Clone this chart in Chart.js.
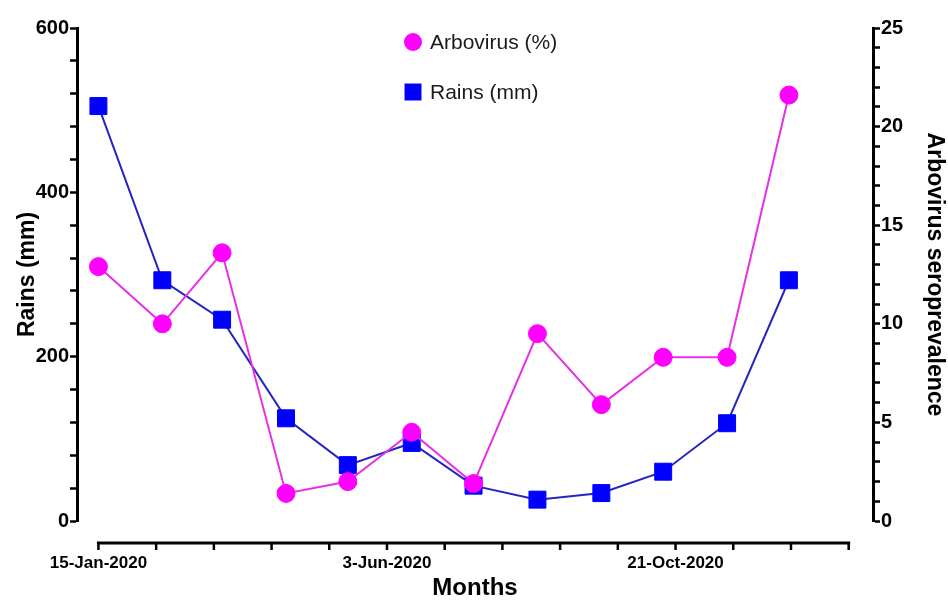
<!DOCTYPE html>
<html>
<head>
  <meta charset="UTF-8" />
  <title>Rains and arbovirus seroprevalence</title>
  <script src="https://cdn.jsdelivr.net/npm/chart.js@4.4.1/dist/chart.umd.min.js"></script>
  <style>
    html, body { margin: 0; padding: 0; background: #fff; }
  </style>
</head>
<body>
  <canvas id="canvas" width="948" height="603"></canvas>
  <script>
    // sampling dates (mid-month)
    const months = ['2020-01-15', '2020-02-15', '2020-03-15', '2020-04-15', '2020-05-15', '2020-06-15',
                    '2020-07-15', '2020-08-15', '2020-09-15', '2020-10-15', '2020-11-15', '2020-12-15'];
    const rains = [505, 293, 245, 125, 68, 95, 43, 26, 34, 60, 119, 293];
    const arbovirus = [12.9, 10.0, 13.6, 1.4, 2.0, 4.5, 1.9, 9.5, 5.9, 8.3, 8.3, 21.6];

    const xTickLabels = ['15-Jan-2020', '3-Jun-2020', '21-Oct-2020'];
    const xTickDates = ['2020-01-15', '2020-06-03', '2020-10-21'];
    const rainTickLabels = [0, 200, 400, 600];
    const arboTickLabels = [0, 5, 10, 15, 20, 25];

    const DAY = 86400000;
    const day = s => (Date.parse(s) - Date.parse(months[0])) / DAY;
    const xMajor = xTickDates.map(day);
    const xStep = (xMajor[1] - xMajor[0]) / 5;          // 28 days between minor ticks
    const xAllTicks = [];
    for (let v = 0; v <= xMajor[2] + 3 * xStep; v += xStep) xAllTicks.push(v);

    const rainAll = [];
    for (let v = 0; v <= 600; v += 40) rainAll.push(v);
    const arboAll = [];
    for (let v = 0; v <= 25; v += 1) arboAll.push(v);

    const FONT = '"Liberation Sans", Arial, sans-serif';

    // prism style: x axis drawn a bit below the y=0 line, only over the data range
    const offsetXAxis = {
      id: 'offsetXAxis',
      afterDraw(chart) {
        const sx = chart.scales.x;
        const ctx = chart.ctx;
        const y = chart.chartArea.bottom + 22;
        ctx.save();
        ctx.strokeStyle = '#000';
        ctx.lineWidth = 3;
        ctx.beginPath();
        ctx.moveTo(sx.getPixelForValue(xAllTicks[0]) - 1.5, y);
        ctx.lineTo(sx.getPixelForValue(xAllTicks[xAllTicks.length - 1]) + 1.5, y);
        ctx.stroke();
        ctx.lineWidth = 2.5;
        ctx.beginPath();
        xAllTicks.forEach(v => {
          const px = sx.getPixelForValue(v);
          ctx.moveTo(px, y);
          ctx.lineTo(px, y + 7);
        });
        ctx.stroke();
        ctx.restore();
      }
    };

    // stacked legend inside the plot
    const stackedLegend = {
      id: 'stackedLegend',
      afterDraw(chart) {
        const ctx = chart.ctx;
        const rows = [42, 92];
        ctx.save();
        ctx.font = '21px ' + FONT;
        ctx.textBaseline = 'middle';
        chart.data.datasets.forEach((ds, i) => {
          const y = rows[i];
          ctx.fillStyle = ds.pointBackgroundColor;
          ctx.beginPath();
          if (ds.pointStyle === 'circle') {
            ctx.arc(413, y, ds.pointRadius, 0, Math.PI * 2);
          } else {
            const h = ds.pointRadius * Math.SQRT1_2;
            ctx.rect(413 - h, y - h, 2 * h, 2 * h);
          }
          ctx.fill();
          ctx.fillStyle = '#1a1a1a';
          ctx.fillText(ds.label, 430, y + 1);
        });
        ctx.restore();
      }
    };

    new Chart(document.getElementById('canvas').getContext('2d'), {
      type: 'line',
      data: {
        datasets: [{
          label: 'Arbovirus (%)',
          yAxisID: 'y1',
          data: months.map((m, i) => ({ x: day(m), y: arbovirus[i] })),
          borderColor: '#e630e6',
          borderWidth: 2,
          pointStyle: 'circle',
          pointRadius: 9,
          pointBackgroundColor: '#ff00ff',
          pointBorderColor: '#ff00ff',
          pointBorderWidth: 1,
          tension: 0
        }, {
          label: 'Rains (mm)',
          yAxisID: 'y',
          data: months.map((m, i) => ({ x: day(m), y: rains[i] })),
          borderColor: '#2424c0',
          borderWidth: 2,
          pointStyle: 'rect',
          pointRadius: 12,
          pointBackgroundColor: '#0000ff',
          pointBorderColor: '#0000ff',
          pointBorderWidth: 1,
          tension: 0
        }]
      },
      options: {
        responsive: false,
        animation: false,
        layout: { padding: { top: 28, left: 0, right: 0, bottom: 0 } },
        plugins: {
          legend: { display: false },
          tooltip: { enabled: false }
        },
        scales: {
          x: {
            type: 'linear',
            min: -10.4,
            max: 375.8,
            afterBuildTicks: s => { s.ticks = xAllTicks.map(v => ({ value: v })); },
            afterFit: s => { s.height = 82; },
            border: { display: false },
            grid: { display: false, drawTicks: false },
            ticks: {
              autoSkip: false,
              maxRotation: 0,
              padding: 32,
              color: '#000',
              font: { family: FONT, size: 17, weight: 'bold' },
              callback: v => {
                const k = xMajor.indexOf(v);
                return k >= 0 ? xTickLabels[k] : '';
              }
            },
            title: {
              display: true,
              text: 'Months',
              color: '#000',
              padding: { top: 0, bottom: 0 },
              font: { family: FONT, size: 24, weight: 'bold' }
            }
          },
          y: {
            position: 'left',
            min: 0,
            max: 600,
            afterBuildTicks: s => { s.ticks = rainAll.map(v => ({ value: v })); },
            afterFit: s => { s.width = 77; },
            border: { display: true, color: '#000', width: 3 },
            grid: { drawOnChartArea: false, drawTicks: true, tickLength: 7, tickColor: '#000', tickWidth: 2.5 },
            ticks: {
              autoSkip: false,
              padding: 1,
              color: '#000',
              font: { family: FONT, size: 20, weight: 'bold' },
              callback: v => rainTickLabels.includes(v) ? String(v) : ''
            },
            title: {
              display: true,
              text: 'Rains (mm)',
              color: '#000',
              padding: { top: 14, bottom: 0 },
              font: { family: FONT, size: 23, weight: 'bold' }
            }
          },
          y1: {
            position: 'right',
            min: 0,
            max: 25,
            afterBuildTicks: s => { s.ticks = arboAll.map(v => ({ value: v })); },
            afterFit: s => { s.width = 75; },
            border: { display: true, color: '#000', width: 3 },
            grid: { drawOnChartArea: false, drawTicks: true, tickLength: 7, tickColor: '#000', tickWidth: 2.5 },
            ticks: {
              autoSkip: false,
              padding: 1,
              color: '#000',
              font: { family: FONT, size: 20, weight: 'bold' },
              callback: v => arboTickLabels.includes(v) ? String(v) : ''
            },
            title: {
              display: true,
              text: 'Arbovirus seroprevalence',
              color: '#000',
              padding: { top: 0, bottom: 0 },
              font: { family: FONT, size: 23, weight: 'bold' }
            }
          }
        }
      },
      plugins: [offsetXAxis, stackedLegend]
    });
  </script>
</body>
</html>
